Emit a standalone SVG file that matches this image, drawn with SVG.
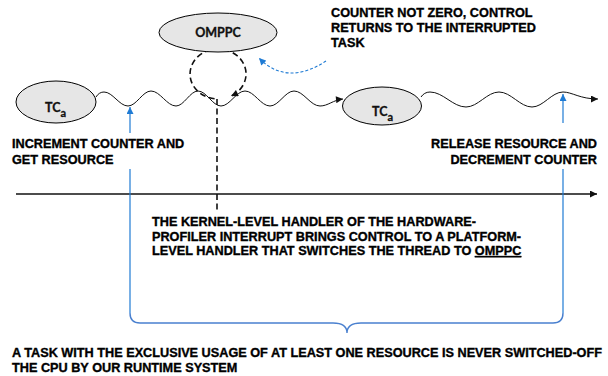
<svg xmlns="http://www.w3.org/2000/svg" width="608" height="376" viewBox="0 0 608 376">
  <style>
    .node { fill: #e6e6e6; stroke: #000; stroke-width: 1; }
    .nlabel { font-family: Lato, "Open Sans", sans-serif; font-weight: bold; fill: #111; stroke: #111; stroke-width: 0.3; }
    .label { font-family: "Liberation Sans", Arial, sans-serif; font-weight: bold; font-size: 12.7px; fill: #000; stroke: #000; stroke-width: 0.35; }
    .wave { fill: none; stroke: #111; stroke-width: 1; }
    .blue { fill: none; stroke: #1f7bd4; stroke-width: 1.2; }
    .brace { fill: none; stroke: #4a80cf; stroke-width: 1.4; }
    .dash { fill: none; stroke: #111; stroke-width: 1.6; stroke-dasharray: 6 3.5; }
    .bluedash { fill: none; stroke: #1f7bd4; stroke-width: 1.1; stroke-dasharray: 3 2; }
    .bg { fill: #fff; }
  </style>
  <defs>
    <marker id="ah" viewBox="0 0 10 10" refX="10" refY="5" markerUnits="userSpaceOnUse" markerWidth="9" markerHeight="7" orient="auto">
      <path d="M0 0 L10 5 L0 10 z" fill="#111"/>
    </marker>
    <marker id="ahBlue" viewBox="0 0 10 10" refX="10" refY="5" markerUnits="userSpaceOnUse" markerWidth="8" markerHeight="7" orient="auto">
      <path d="M0 0 L10 5 L0 10 z" fill="#1f7bd4"/>
    </marker>
  </defs>

  <!-- connectors -->
  <g id="connectors">
    <!-- time axis -->
    <line x1="16" y1="194" x2="597" y2="194" stroke="#111" stroke-width="1.3" marker-end="url(#ah)"/>
    <!-- thread of execution before the interrupt -->
    <path class="wave" marker-end="url(#ah)" d="M96 97 C98 93.5 101 92 104 92 C112.7 92 119.3 106 128 106 C136.4 106 142.6 91 151 91 C160.1 91 166.9 106 176 106 C184 106 190 91 198 91 C206.4 91 212.6 106 221 106 C229.7 106 236.3 91 245 91 C254.1 91 260.9 106 270 106 C278.7 106 285.3 91 294 91 C303.5 91 310.5 106 320 106 C328 106 333 100 343 99"/>
    <!-- thread of execution after returning -->
    <path class="wave" marker-end="url(#ah)" d="M421 97 C423 94 426 92 430 92 C443.1 92 452.9 107 466 107 C478 107 487 92 499 92 C511 92 520 107 532 107 C543.3 107 551.7 92 563 92 C572 92 580 99 598 99"/>
    <!-- interrupt: detour through OMPPC and back -->
    <path class="dash" marker-end="url(#ah)" d="M214.6 98.8 A28 25 0 1 1 231.1 96.1"/>
    <!-- interrupt to handler text -->
    <line class="dash" x1="217" y1="99" x2="217" y2="211"/>
    <!-- return of control -->
    <path class="bluedash" marker-end="url(#ahBlue)" d="M326 61 C305 75 280 80 259 58"/>
    <!-- resource acquire / release markers -->
    <line class="blue" x1="130" y1="313" x2="130" y2="107" marker-end="url(#ahBlue)"/>
    <line class="blue" x1="563" y1="313" x2="563" y2="94" marker-end="url(#ahBlue)"/>
    <!-- brace spanning the exclusive section -->
    <path class="brace" d="M130 313 Q130 323 140 323 L333 323 C342 323 347 326 347 333 C347 326 352 323 361 323 L553 323 Q563 323 563 313"/>
  </g>

  <!-- nodes -->
  <g id="omppc">
    <ellipse class="node" cx="218" cy="32.5" rx="59" ry="19.5"/>
    <text class="nlabel" x="218" y="37" font-size="12.5" text-anchor="middle">OMPPC</text>
  </g>
  <g id="tca-start">
    <ellipse class="node" cx="56" cy="102" rx="40" ry="21"/>
    <text class="nlabel" x="45" y="112" font-size="12.5">TC<tspan font-size="11" dy="5">a</tspan></text>
  </g>
  <g id="tca-resume">
    <ellipse class="node" cx="382" cy="106" rx="39.5" ry="19"/>
    <text class="nlabel" x="372" y="116" font-size="12.5">TC<tspan font-size="11" dy="5">a</tspan></text>
  </g>

  <!-- annotations -->
  <g id="note-return">
    <text class="label" x="331" y="17">COUNTER NOT ZERO, CONTROL</text>
    <text class="label" x="331" y="32">RETURNS TO THE INTERRUPTED</text>
    <text class="label" x="331" y="46.5">TASK</text>
  </g>
  <g id="note-acquire">
    <rect class="bg" x="10" y="133" width="180" height="36"/>
    <text class="label" x="12" y="148">INCREMENT COUNTER AND</text>
    <text class="label" x="12" y="163.5">GET RESOURCE</text>
  </g>
  <g id="note-release">
    <rect class="bg" x="425" y="123" width="176" height="46"/>
    <text class="label" x="597" y="148" text-anchor="end">RELEASE RESOURCE AND</text>
    <text class="label" x="597" y="163.5" text-anchor="end">DECREMENT COUNTER</text>
  </g>
  <g id="note-handler">
    <text class="label" x="152" y="226">THE KERNEL-LEVEL HANDLER OF THE HARDWARE-</text>
    <text class="label" x="152" y="240.5">PROFILER INTERRUPT BRINGS CONTROL TO A PLATFORM-</text>
    <text class="label" x="152" y="255">LEVEL HANDLER THAT SWITCHES THE THREAD TO <tspan text-decoration="underline">OMPPC</tspan></text>
  </g>
  <g id="note-exclusive">
    <text class="label" x="12" y="357">A TASK WITH THE EXCLUSIVE USAGE OF AT LEAST ONE RESOURCE IS NEVER SWITCHED-OFF</text>
    <text class="label" x="12" y="372">THE CPU BY OUR RUNTIME SYSTEM</text>
  </g>
</svg>
